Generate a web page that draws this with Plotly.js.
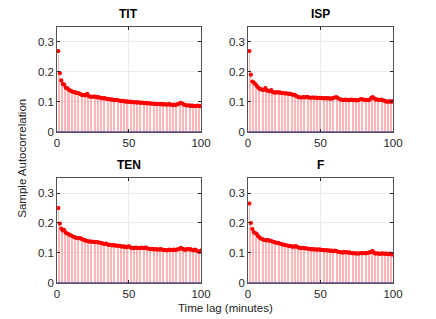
<!DOCTYPE html>
<html><head><meta charset="utf-8">
<script src="https://cdn.plot.ly/plotly-3.0.1.min.js"></script>
<style>html,body{margin:0;padding:0;background:#fff}#c{width:436px;height:319px}</style>
</head><body><div id="c"></div>
<script>
var panelTitles = ["TIT", "ISP", "TEN", "F"];
var lags = [];
for (var i = 0; i <= 100; i++) lags.push(i);

var acfTIT = [1.000,
 0.270,0.196,0.172,0.160,0.158,0.148,0.146,0.142,0.139,0.136,
 0.134,0.133,0.131,0.130,0.130,0.127,0.124,0.123,0.124,0.122,
 0.127,0.120,0.118,0.117,0.118,0.118,0.117,0.115,0.116,0.114,
 0.113,0.112,0.113,0.111,0.110,0.110,0.108,0.109,0.107,0.106,
 0.107,0.106,0.105,0.104,0.103,0.104,0.102,0.101,0.102,0.100,
 0.101,0.100,0.099,0.100,0.098,0.099,0.099,0.097,0.098,0.097,
 0.096,0.097,0.095,0.096,0.095,0.094,0.095,0.094,0.093,0.094,
 0.093,0.093,0.092,0.093,0.092,0.091,0.092,0.093,0.091,0.090,
 0.091,0.090,0.091,0.093,0.095,0.097,0.095,0.092,0.090,0.089,
 0.088,0.089,0.087,0.088,0.087,0.086,0.087,0.088,0.086,0.087];

var acfISP = [1.000,
 0.270,0.191,0.168,0.165,0.160,0.154,0.148,0.144,0.142,0.141,
 0.140,0.146,0.139,0.137,0.136,0.140,0.133,0.132,0.131,0.133,
 0.131,0.132,0.130,0.130,0.129,0.129,0.128,0.128,0.126,0.126,
 0.124,0.124,0.121,0.118,0.116,0.115,0.115,0.116,0.115,0.116,
 0.117,0.115,0.114,0.115,0.115,0.114,0.115,0.113,0.114,0.114,
 0.113,0.112,0.113,0.112,0.113,0.112,0.111,0.112,0.114,0.115,
 0.116,0.113,0.110,0.108,0.107,0.107,0.108,0.107,0.106,0.107,
 0.108,0.107,0.106,0.107,0.105,0.106,0.108,0.110,0.109,0.107,
 0.106,0.107,0.106,0.108,0.114,0.116,0.112,0.108,0.109,0.107,
 0.107,0.108,0.106,0.104,0.102,0.101,0.101,0.102,0.101,0.103];

var acfTEN = [1.000,
 0.250,0.198,0.181,0.175,0.177,0.168,0.165,0.163,0.160,0.158,
 0.155,0.153,0.151,0.150,0.149,0.150,0.147,0.145,0.143,0.141,
 0.140,0.139,0.138,0.138,0.137,0.137,0.136,0.136,0.135,0.134,
 0.133,0.131,0.130,0.131,0.129,0.127,0.127,0.126,0.125,0.126,
 0.124,0.125,0.124,0.123,0.121,0.122,0.121,0.119,0.121,0.122,
 0.118,0.117,0.116,0.117,0.118,0.117,0.116,0.117,0.118,0.116,
 0.117,0.118,0.115,0.114,0.113,0.114,0.112,0.113,0.112,0.111,
 0.112,0.113,0.111,0.110,0.110,0.109,0.110,0.111,0.110,0.110,
 0.111,0.110,0.111,0.112,0.114,0.117,0.114,0.112,0.110,0.113,
 0.112,0.113,0.112,0.110,0.109,0.111,0.108,0.105,0.104,0.108];

var acfF = [1.000,
 0.265,0.200,0.180,0.170,0.166,0.163,0.156,0.151,0.148,0.146,
 0.144,0.143,0.142,0.143,0.141,0.140,0.138,0.136,0.135,0.133,
 0.134,0.131,0.130,0.128,0.127,0.126,0.125,0.124,0.123,0.122,
 0.121,0.121,0.123,0.120,0.118,0.117,0.116,0.117,0.116,0.115,
 0.115,0.114,0.113,0.112,0.113,0.112,0.111,0.111,0.112,0.111,
 0.110,0.110,0.109,0.110,0.108,0.109,0.107,0.108,0.106,0.108,
 0.106,0.104,0.104,0.103,0.101,0.103,0.102,0.103,0.101,0.102,
 0.100,0.099,0.100,0.098,0.099,0.098,0.099,0.100,0.099,0.100,
 0.099,0.100,0.101,0.102,0.104,0.106,0.100,0.098,0.099,0.098,
 0.097,0.098,0.099,0.097,0.098,0.097,0.096,0.098,0.095,0.095];

var yTicks = [0, 0.1, 0.2, 0.3];
var yTickText = ["0", "0.1", "0.2", "0.3"];
var xTicks = [0, 50, 100];
var xTickText = ["0", "50", "100"];

var series = [acfTIT, acfISP, acfTEN, acfF];
var xDomains = [[0.1307, 0.4610], [0.5688, 0.9014], [0.1307, 0.4610], [0.5688, 0.9014]];
var yDomains = [[0.5862, 0.9154], [0.5862, 0.9154], [0.1129, 0.4420], [0.1129, 0.4420]];

var fontFam = "Liberation Sans, Arial, Helvetica, sans-serif";
var data = [];
var layout = {
  width: 436, height: 319,
  margin: {l: 0, r: 0, t: 0, b: 0},
  paper_bgcolor: "#fff", plot_bgcolor: "#fff",
  showlegend: false,
  bargap: 0,
  font: {family: fontFam, size: 11, color: "#262626"},
  annotations: []
};

for (var k = 0; k < 4; k++) {
  var sfx = k === 0 ? "" : String(k + 1);
  var xa = "x" + sfx, ya = "y" + sfx;
  data.push({
    type: "bar", x: lags, y: series[k], xaxis: xa, yaxis: ya,
    width: 0.62, marker: {color: "rgba(255,80,80,0.42)", line: {width: 0}},
    hoverinfo: "skip"
  });
  data.push({
    type: "scatter", mode: "lines", x: [0, 100], y: [0, 0], xaxis: xa, yaxis: ya,
    line: {color: "rgb(100,70,170)", width: 1.5}, hoverinfo: "skip"
  });
  data.push({
    type: "scatter", mode: "markers", x: lags, y: series[k], xaxis: xa, yaxis: ya,
    marker: {color: "#ff0000", size: 4.2}, cliponaxis: true
  });
  layout["xaxis" + sfx] = {
    domain: xDomains[k], anchor: ya, range: [0, 100],
    tickvals: xTicks, ticktext: xTickText, ticks: "inside", ticklen: 3,
    tickcolor: "#262626", showline: true, linecolor: "#262626", linewidth: 0.8,
    mirror: "ticks", showgrid: true, gridcolor: "#e6e6e6", gridwidth: 0.8,
    zeroline: false, tickfont: {size: 11.5, color: "#262626"}
  };
  layout["yaxis" + sfx] = {
    domain: yDomains[k], anchor: xa, range: [0, 0.35],
    tickvals: yTicks, ticktext: yTickText, ticks: "inside", ticklen: 3,
    tickcolor: "#262626", showline: true, linecolor: "#262626", linewidth: 0.8,
    mirror: "ticks", showgrid: true, gridcolor: "#e6e6e6", gridwidth: 0.8,
    zeroline: false, tickfont: {size: 11.5, color: "#262626"}
  };
  layout.annotations.push({
    text: "<b>" + panelTitles[k] + "</b>", xref: "paper", yref: "paper",
    x: (xDomains[k][0] + xDomains[k][1]) / 2, y: yDomains[k][1] + 0.012,
    xanchor: "center", yanchor: "bottom", showarrow: false,
    font: {size: 12, color: "#000", family: fontFam}
  });
}
layout.annotations.push({
  text: "Time lag (minutes)", xref: "paper", yref: "paper",
  x: 0.518, y: 0.035, xanchor: "center", yanchor: "middle", showarrow: false,
  font: {size: 11.5, color: "#262626", family: fontFam}
});
layout.annotations.push({
  text: "Sample Autocorrelation", xref: "paper", yref: "paper",
  x: 0.05, y: 0.505, xanchor: "center", yanchor: "middle", showarrow: false,
  textangle: -90, font: {size: 11.5, color: "#262626", family: fontFam}
});

Plotly.newPlot("c", data, layout, {staticPlot: true, displayModeBar: false});
</script></body></html>
